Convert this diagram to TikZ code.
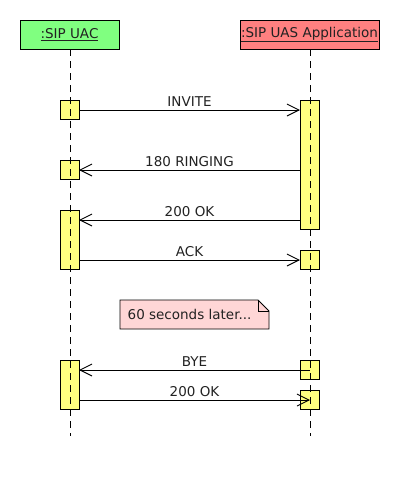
\documentclass[tikz,border=0pt]{standalone}
\usepackage{fontspec}
\setmainfont{DejaVu Sans}
\usetikzlibrary{arrows.meta}
\definecolor{uacgreen}{HTML}{80FF80}
\definecolor{uasred}{HTML}{FF8080}
\definecolor{actyellow}{HTML}{FFFF80}
\definecolor{notepink}{HTML}{FFD6D6}
\definecolor{txt}{HTML}{222222}
\begin{document}
\begin{tikzpicture}[x=1pt,y=-1pt,
  every node/.style={font=\fontsize{13.5}{15}\selectfont, text=txt},
  head/.style={draw=black, line width=0.9pt, minimum height=29pt, inner sep=0pt},
  act/.style={draw=black, line width=0.9pt, fill=actyellow},
  life/.style={line width=0.9pt, dash pattern=on 7pt off 5pt},
  msg/.style={line width=0.9pt, -{Straight Barb[length=12pt,width=12pt,line width=0.9pt]}},
  lbl/.style={above, inner sep=0pt, yshift=3pt}
]
\useasboundingbox[fill=white] (0,0) rectangle (400,480);

% heads
\node[head, fill=uacgreen, minimum width=99pt] (uac) at (69.5,34.5) {\underline{:SIP UAC}};
\node[head, fill=uasred, minimum width=139pt] (uas) at (309.5,34.5) {\underline{:SIP UAS Application}};

% lifeline ends
\coordinate (uacend) at (70,436);
\coordinate (uasend) at (310,436);

% activation boxes
\draw[act] (60,100) rectangle (79,119);
\draw[act] (300,100) rectangle (319,229);
\draw[act] (60,160) rectangle (79,179);
\draw[act] (60,210) rectangle (79,269);
\draw[act] (300,250) rectangle (319,269);
\draw[act] (60,360) rectangle (79,409);
\draw[act] (300,360) rectangle (319,379);
\draw[act] (300,390) rectangle (319,409);

% lifelines
\draw[life] (uac.south -| uacend) -- (uacend);
\draw[life] (uas.south -| uasend) -- (uasend);

% message endpoints
\coordinate (a1) at (79,110);  \coordinate (b1) at (300,110);
\coordinate (a2) at (79,170);  \coordinate (b2) at (300,170);
\coordinate (a3) at (79,220);  \coordinate (b3) at (300,220);
\coordinate (a4) at (79,260);  \coordinate (b4) at (300,260);
\coordinate (a5) at (79,370);  \coordinate (b5) at (310,370);
\coordinate (a6) at (79,400);  \coordinate (b6) at (310,400);

\draw[msg] (a1) -- node[lbl] {INVITE} (b1);
\draw[msg] (b2) -- node[lbl] {180 RINGING} (a2);
\draw[msg] (b3) -- node[lbl] {200 OK} (a3);
\draw[msg] (a4) -- node[lbl] {ACK} (b4);
\draw[msg] (b5) -- node[lbl] {BYE} (a5);
\draw[msg] (a6) -- node[lbl] {200 OK} (b6);

% note
\draw[line width=0.9pt, fill=notepink] (120,300) -- (258,300) -- (269,311) -- (269,329) -- (120,329) -- cycle;
\draw[line width=0.9pt] (258,300) -- (258,311) -- (269,311);
\node[anchor=west, inner sep=0pt] (note) at (127.5,314.5) {60 seconds later...};
\end{tikzpicture}
\end{document}
